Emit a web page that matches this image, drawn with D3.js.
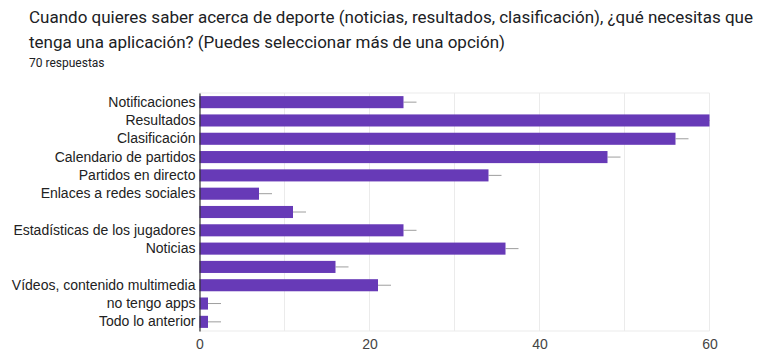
<!DOCTYPE html>
<html>
<head>
<meta charset="utf-8">
<script src="https://cdn.jsdelivr.net/npm/d3@7"></script>
<style>
  html, body { margin: 0; padding: 0; background: #fff; }
  svg { display: block; }
</style>
</head>
<body>
<svg id="chart" width="764" height="353"></svg>
<script>
// Survey answers (multiple choice), one bar per option
const categories = [
  "Notificaciones",
  "Resultados",
  "Clasificación",
  "Calendario de partidos",
  "Partidos en directo",
  "Enlaces a redes sociales",
  "",
  "Estadísticas de los jugadores",
  "Noticias",
  "",
  "Vídeos, contenido multimedia",
  "no tengo apps",
  "Todo lo anterior"
];
const counts = [24, 60, 56, 48, 34, 7, 11, 24, 36, 16, 21, 1, 1];
const xTicks = [0, 20, 40, 60];
const gridValues = [0, 10, 20, 30, 40, 50, 60];

const titleLines = [
  "Cuando quieres saber acerca de deporte (noticias, resultados, clasificación), ¿qué necesitas que",
  "tenga una aplicación? (Puedes seleccionar más de una opción)"
];
const subtitle = "70 respuestas";

const svg = d3.select("#chart");
const plot = { left: 199.5, right: 709.5, top: 93, bottom: 331 };

// Header
svg.selectAll("text.title")
  .data(titleLines)
  .join("text")
  .attr("class", "title")
  .attr("x", 29)
  .attr("y", 23)
  .attr("dy", (d, i) => i * 25)
  .attr("font-family", "Roboto, 'Noto Sans', sans-serif")
  .attr("font-size", 17)
  .attr("fill", "#202124")
  .text(d => d);

svg.append("text")
  .attr("x", 29)
  .attr("y", 67)
  .attr("font-family", "Roboto, 'Noto Sans', sans-serif")
  .attr("font-size", 12)
  .attr("fill", "#202124")
  .text(subtitle);

const x = d3.scaleLinear().domain([0, 60]).range([plot.left, plot.right]);
const y = d3.scaleBand()
  .domain(d3.range(categories.length))
  .range([plot.top, plot.bottom])
  .paddingInner(0.34)
  .paddingOuter(0.17);

// Grid
svg.append("g")
  .selectAll("line")
  .data(gridValues)
  .join("line")
  .attr("x1", d => x(d)).attr("x2", d => x(d))
  .attr("y1", plot.top).attr("y2", plot.bottom)
  .attr("stroke", "#ebebeb")
  .attr("stroke-width", 1);

svg.append("line")
  .attr("x1", plot.left).attr("x2", plot.right)
  .attr("y1", plot.top).attr("y2", plot.top)
  .attr("stroke", "#ebebeb");
svg.append("line")
  .attr("x1", plot.left).attr("x2", plot.right)
  .attr("y1", plot.bottom).attr("y2", plot.bottom)
  .attr("stroke", "#ebebeb");

// Whiskers behind bars, clipped to the plot area
svg.append("clipPath").attr("id", "plotclip")
  .append("rect")
  .attr("x", plot.left).attr("y", plot.top)
  .attr("width", plot.right - plot.left + 0.5).attr("height", plot.bottom - plot.top);

svg.append("g")
  .attr("clip-path", "url(#plotclip)")
  .selectAll("line")
  .data(counts)
  .join("line")
  .attr("x1", d => x(d))
  .attr("x2", d => x(d) + 13)
  .attr("y1", (d, i) => y(i) + y.bandwidth() / 2)
  .attr("y2", (d, i) => y(i) + y.bandwidth() / 2)
  .attr("stroke", "#9e9e9e")
  .attr("stroke-width", 1);

// Bars
svg.append("g")
  .selectAll("rect")
  .data(counts)
  .join("rect")
  .attr("x", x(0))
  .attr("y", (d, i) => y(i))
  .attr("width", d => x(d) - x(0))
  .attr("height", y.bandwidth())
  .attr("fill", "#673ab7");

// Category axis
const yAxis = d3.axisLeft(y)
  .tickSize(0)
  .tickPadding(4)
  .tickFormat(i => categories[i]);
const gy = svg.append("g")
  .attr("transform", `translate(${plot.left},0)`)
  .call(yAxis);
gy.select(".domain").attr("stroke", "#333").attr("stroke-width", 1.2);
gy.selectAll("text")
  .attr("font-family", "'Liberation Sans', Arial, sans-serif")
  .attr("font-size", 14)
  .attr("fill", "#222");

// Value axis labels
const xAxis = d3.axisBottom(x).tickValues(xTicks).tickSize(0).tickPadding(8);
const gx = svg.append("g")
  .attr("transform", `translate(0,${plot.bottom})`)
  .call(xAxis);
gx.select(".domain").remove();
gx.selectAll("text")
  .attr("font-family", "'Liberation Sans', Arial, sans-serif")
  .attr("font-size", 14)
  .attr("fill", "#444");
</script>
</body>
</html>
